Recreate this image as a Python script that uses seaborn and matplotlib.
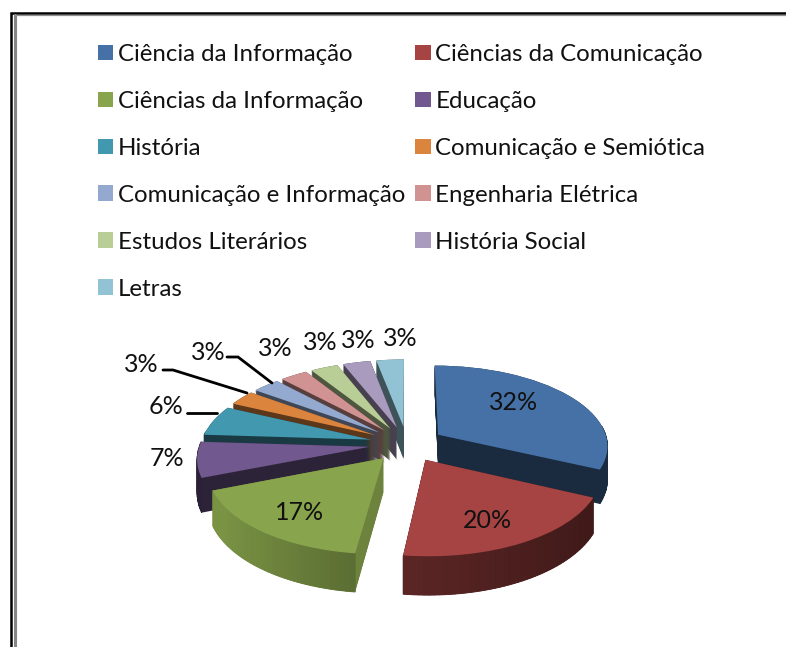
import numpy as np
import matplotlib
matplotlib.use('Agg')
import matplotlib.pyplot as plt
import matplotlib.transforms as mtransforms
from matplotlib.patches import Patch
import seaborn as sns

# ------------------------------
# Data
# ------------------------------
categories = ['Ciência da Informação', 'Ciências da Comunicação', 'Ciências da Informação',
              'Educação', 'História', 'Comunicação e Semiótica', 'Comunicação e Informação',
              'Engenharia Elétrica', 'Estudos Literários', 'História Social', 'Letras']
shares = [32, 20, 17, 7, 6, 3, 3, 3, 3, 3, 3]
top_colors = ['#4571a6', '#a54442', '#88a44c', '#71588f', '#4198af', '#db843d',
              '#93a9cf', '#d19392', '#b9cd96', '#a99bbd', '#92c3d4']

# ------------------------------
# Look of the 3D pie
# ------------------------------
X0, Y0 = 407, 444       # pixel position of the pie centre
RX, RY = 170, 80        # plane scale in pixels
PERSP = 0.126           # how strongly the back shrinks
DEPTH = 33              # extrusion in pixels
EXPLODE = 0.22
N_LAYERS = 40

# label pixel positions, same order as shares
label_xy = [(514, 403), (487, 521), (300, 512), (167, 459), (166, 407), (141, 365),
            (208, 352), (275, 349), (320, 342), (358, 341), (400, 338)]
leaders = [[(187, 413), (217, 413)],
           [(163, 370), (173, 370), (247, 393)],
           [(227, 357), (238, 357), (272, 383)]]


class Perspective(mtransforms.Transform):
    input_dims = 2
    output_dims = 2

    def __init__(self, h=0.0):
        super().__init__()
        self.h = h

    def transform_non_affine(self, values):
        values = np.asarray(values, dtype=float)
        u, v = values[:, 0], values[:, 1]
        s = 1 / (1 + PERSP * v)
        return np.column_stack([X0 + RX * u * s, Y0 - RY * v * s + self.h * DEPTH * s])


def darker(color, f):
    return tuple(c * f for c in matplotlib.colors.to_rgb(color))


def rim_shade(i, u):
    # green slice catches the light on its left side, the rest stay dark
    if i == 2:
        return 0.58 - 0.32 * max(u, -1) if u < 0 else 0.55
    if i == 1:
        return 0.55 - 0.17 * max(u, 0)
    return 0.38


sns.set_theme(style='white')
plt.rcParams['font.family'] = ['Lato', 'DejaVu Sans']

fig = plt.figure(figsize=(7.86, 6.47), dpi=100)
ax = fig.add_axes([0, 0, 1, 1])

# back slices first so that the front ones cover them
mid = np.cumsum(shares) - np.array(shares) / 2
order = np.argsort(np.argsort(-np.cos(mid / 100 * 2 * np.pi)))
cut_shade = [0.38, 0.38, 0.80, 0.40, 0.38, 0.42, 0.42, 0.42, 0.42, 0.42, 0.42]

pie_args = dict(explode=[EXPLODE] * len(shares), startangle=90, counterclock=False,
                wedgeprops={'linewidth': 0})

# side layers, from bottom to top
for k, h in enumerate(np.linspace(1, 0, N_LAYERS)):
    side_colors = [darker(c, f) for c, f in zip(top_colors, cut_shade)]
    wedges, _ = ax.pie(shares, colors=side_colors, **pie_args)
    for i, w in enumerate(wedges):
        w.set_transform(Perspective(h) + ax.transData)
        w.set_zorder(10 + order[i] * 5 + 0.01 * k)
        w.set_clip_on(False)

# top faces
tops, _ = ax.pie(shares, colors=top_colors, **pie_args)
for i, w in enumerate(tops):
    w.set_transform(Perspective(0) + ax.transData)
    w.set_zorder(12 + order[i] * 5)
    w.set_clip_on(False)

    # outer rim with its gradient
    angles = np.deg2rad(np.arange(w.theta1, w.theta2 + 1.5, 1.5))
    angles = np.clip(angles, np.deg2rad(w.theta1), np.deg2rad(w.theta2))
    plane = np.column_stack([w.center[0] + w.r * np.cos(angles), w.center[1] + w.r * np.sin(angles)])
    upper = Perspective(0).transform(plane)
    lower = Perspective(1).transform(plane)
    for j in range(len(plane) - 1):
        if plane[j, 1] > w.center[1] + 0.1:
            continue
        quad = np.vstack([upper[j], upper[j + 1], lower[j + 1], lower[j]])
        color = darker(top_colors[i], rim_shade(i, plane[j, 0]))
        ax.fill(quad[:, 0], quad[:, 1], color=color, lw=0.6, zorder=11 + order[i] * 5)

ax.set_aspect('auto')
ax.set_xlim(0, 786)
ax.set_ylim(647, 0)
ax.set_axis_off()

# percent labels
for (x, y), share in zip(label_xy, shares):
    ax.text(x, y, f'{share}%', ha='center', va='center', fontsize=18, color='#111111', zorder=200)

# leader lines
for line in leaders:
    xs, ys = zip(*line)
    ax.plot(xs, ys, color='black', lw=2.0, zorder=150, solid_joinstyle='miter')

# window border from the screenshot
ax.plot([10.8, 10.8, 786], [647, 13, 13], color='black', lw=1.8, zorder=300, solid_joinstyle='miter')
ax.plot([14.5, 14.5], [15, 647], color='#858585', lw=2.2, zorder=300)
ax.plot([15, 786], [14.8, 14.8], color='#909090', lw=0.9, zorder=300)

# legend reads row by row, matplotlib fills columns
idx = list(range(0, len(categories), 2)) + list(range(1, len(categories), 2))
handles = [Patch(facecolor=top_colors[i], edgecolor='none') for i in idx]
ax.legend(handles, [categories[i] for i in idx], ncols=2, frameon=False,
          loc='upper left', bbox_to_anchor=(98 / 786, 1 - 44 / 647),
          borderpad=0, borderaxespad=0, fontsize=17.3,
          handlelength=0.64, handleheight=0.64, handletextpad=0.2,
          labelspacing=1.08, columnspacing=0.4, labelcolor='#111111')

fig.savefig('out.png', dpi=100, facecolor='white')
